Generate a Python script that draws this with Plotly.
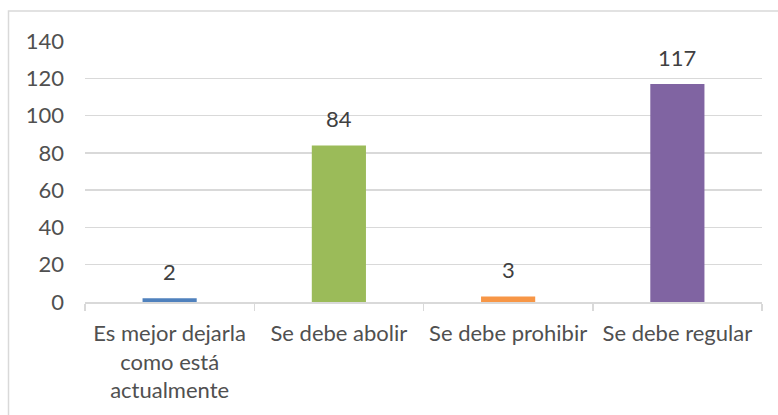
import plotly.graph_objects as go

categories = ["Es mejor dejarla<br>como está<br>actualmente", "Se debe abolir", "Se debe prohibir", "Se debe regular"]
values = [2, 84, 3, 117]
colors = ["#4F81BD", "#9BBB59", "#F79646", "#8064A2"]
y_ticks = [0, 20, 40, 60, 80, 100, 120, 140]

W, H = 778, 415
L, R, T, B = 85, 16, 41, 113
pw, ph = W - L - R, H - T - B
FONT = "Lato"
FS = 22

fig = go.Figure()
fig.add_trace(go.Bar(x=categories, y=values, marker=dict(color=colors, line=dict(width=0)),
                     hoverinfo="skip"))

for c, v in zip(categories, values):
    fig.add_annotation(x=c, y=v, text=str(v), showarrow=False, yanchor="bottom", yshift=11,
                       font=dict(family=FONT, size=FS, color="#404040"))

def px_to_paper_x(px):
    return (px - L) / pw

def px_to_paper_y(py):
    return (H - B - py) / ph

fig.add_shape(type="rect", xref="paper", yref="paper",
              x0=px_to_paper_x(8.5), x1=px_to_paper_x(800),
              y0=px_to_paper_y(430), y1=px_to_paper_y(11),
              line=dict(color="#D9D9D9", width=1.5), fillcolor="rgba(0,0,0,0)", layer="below")

fig.update_layout(
    width=W, height=H,
    margin=dict(l=L, r=R, t=T, b=B, autoexpand=False),
    paper_bgcolor="white", plot_bgcolor="white",
    bargap=0.68, showlegend=False,
    font=dict(family=FONT, size=FS, color="#505050"),
)
fig.update_xaxes(type="category", showline=True, linecolor="#D9D9D9", linewidth=1.5,
                 ticks="outside", tickson="boundaries", ticklen=7, tickcolor="#D9D9D9", tickwidth=1.5,
                 ticklabelstandoff=11,
                 tickfont=dict(family=FONT, size=FS, color="#505050"), showgrid=False)
fig.update_yaxes(range=[0, 140], tickvals=y_ticks, showgrid=True, gridcolor="#D9D9D9", gridwidth=1.5,
                 showline=False, zeroline=False, ticks="", ticklabelstandoff=20,
                 tickfont=dict(family=FONT, size=FS, color="#505050"))

fig.write_html("out.html", config={"displayModeBar": False, "staticPlot": True},
               post_script="document.body.style.margin='0';document.body.style.overflow='hidden';")
